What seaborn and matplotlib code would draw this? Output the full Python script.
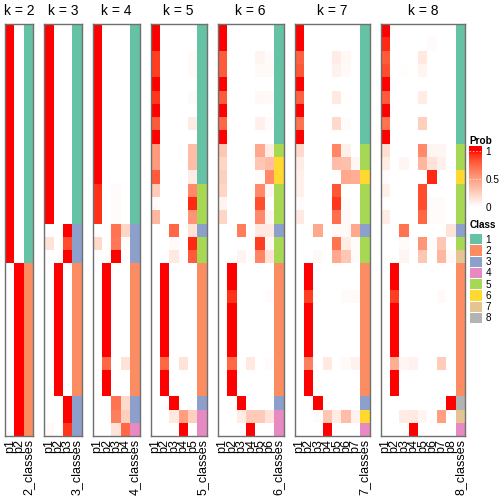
import numpy as np
import matplotlib
matplotlib.use("Agg")
import matplotlib.pyplot as plt
import seaborn as sns
from matplotlib.colors import ListedColormap

plt.rcParams['font.family'] = ['Liberation Sans', 'DejaVu Sans']

# membership probabilities (31 samples) for k = 2..8, columns p1..pk
prob_k2 = [[1, 0]] * 18 + [[0, 1]] * 13
class_k2 = [1] * 18 + [2] * 13

prob_k3 = ([[1, 0, 0]] * 15
           + [[0, 0, 1], [0.15, 0, 0.85], [0, 0, 1]]
           + [[0, 1, 0]] * 10
           + [[0, 0, 1], [0, 0, 1], [0.03, 0, 0.92]])
class_k3 = [1] * 15 + [3] * 3 + [2] * 10 + [3] * 3

prob_k4 = ([[1, 0, 0, 0]] * 12
           + [[0.93, 0, 0.02, 0]] * 3
           + [[0, 0, 0.7, 0.22], [0.2, 0, 0.68, 0.02], [0, 0, 1, 0]]
           + [[0, 1, 0, 0]] * 7
           + [[0, 0.75, 0, 0.15], [0, 1, 0, 0], [0, 1, 0, 0]]
           + [[0, 0, 0.7, 0.2], [0, 0, 0.65, 0.25], [0, 0, 0.15, 0.75]])
class_k4 = [1] * 15 + [3] * 3 + [2] * 10 + [3, 3, 4]

prob_k5 = [
    [1, 0, 0, 0, 0], [1, 0, 0, 0, 0], [0.9, 0, 0, 0, 0.03], [0.9, 0, 0, 0, 0.03],
    [1, 0, 0, 0, 0], [0.92, 0, 0, 0, 0.03], [1, 0, 0, 0, 0], [0.8, 0, 0, 0, 0.1],
    [1, 0, 0, 0, 0], [0.52, 0, 0, 0, 0.35], [0.52, 0, 0, 0, 0.35], [0.8, 0, 0, 0, 0.1],
    [0.28, 0, 0, 0, 0.6], [0.02, 0, 0, 0, 0.95], [0.38, 0, 0, 0, 0.55],
    [0, 0, 0.75, 0, 0.15], [0, 0, 0.02, 0, 0.95], [0, 0, 0.12, 0, 0.8],
    [0, 1, 0, 0, 0], [0, 1, 0, 0, 0], [0, 1, 0, 0, 0], [0, 1, 0, 0, 0],
    [0, 1, 0, 0, 0], [0, 1, 0, 0, 0], [0, 1, 0, 0, 0], [0, 0.75, 0, 0.15, 0],
    [0, 1, 0, 0, 0], [0, 1, 0, 0, 0],
    [0, 0, 1, 0, 0], [0, 0, 0.12, 0.5, 0.25], [0, 0, 0, 1, 0]]
class_k5 = [1] * 12 + [5] * 3 + [3, 5, 5] + [2] * 10 + [3, 4, 4]

prob_k6 = [
    [1, 0, 0, 0, 0, 0], [1, 0, 0, 0, 0, 0], [0.8, 0, 0, 0, 0.06, 0.02],
    [0.8, 0, 0, 0, 0.03, 0.03], [1, 0, 0, 0, 0, 0], [0.8, 0, 0, 0, 0.04, 0.03],
    [1, 0, 0, 0, 0, 0], [0.75, 0, 0, 0, 0.08, 0.02], [1, 0, 0, 0, 0, 0],
    [0.3, 0, 0, 0, 0.45, 0.1], [0.22, 0, 0, 0, 0.3, 0.35], [0.25, 0, 0, 0, 0.02, 0.6],
    [0.22, 0, 0, 0, 0.6, 0.05], [0.06, 0, 0, 0, 0.85, 0], [0.22, 0, 0, 0, 0.6, 0.05],
    [0, 0, 0.66, 0, 0.12, 0.12], [0, 0, 0, 0, 0.9, 0.04], [0, 0, 0.06, 0, 0.62, 0.15],
    [0, 1, 0, 0, 0, 0], [0, 1, 0, 0, 0, 0], [0, 0.93, 0, 0, 0, 0.02],
    [0, 1, 0, 0, 0, 0], [0, 1, 0, 0, 0, 0], [0, 1, 0, 0, 0, 0], [0, 1, 0, 0, 0, 0],
    [0, 0.75, 0, 0.12, 0, 0.02], [0, 1, 0, 0, 0, 0], [0, 1, 0, 0, 0, 0],
    [0, 0, 1, 0, 0, 0], [0, 0, 0.1, 0.28, 0.28, 0.15], [0, 0, 0, 1, 0, 0]]
class_k6 = [1] * 9 + [5, 6, 6, 5, 5, 5, 3, 5, 5] + [2] * 10 + [3, 4, 4]

prob_k7 = [
    [1, 0, 0, 0, 0, 0, 0], [1, 0, 0, 0, 0, 0, 0], [0.78, 0, 0, 0, 0.1, 0.04, 0],
    [0.82, 0, 0, 0, 0.07, 0.03, 0], [1, 0, 0, 0, 0, 0, 0], [0.78, 0, 0, 0, 0.12, 0.01, 0],
    [1, 0, 0, 0, 0, 0, 0], [0.7, 0, 0, 0, 0.2, 0.02, 0], [1, 0, 0, 0, 0, 0, 0],
    [0.2, 0, 0, 0, 0.62, 0.08, 0], [0.1, 0, 0, 0, 0.35, 0.33, 0.05],
    [0.08, 0, 0, 0, 0, 0.45, 0.42], [0.08, 0, 0, 0, 0.82, 0, 0],
    [0.02, 0, 0, 0, 0.92, 0.02, 0], [0.12, 0, 0, 0, 0.72, 0.03, 0],
    [0, 0, 0.45, 0, 0.03, 0.03, 0.45], [0, 0, 0, 0, 0.7, 0.1, 0.02],
    [0, 0, 0.03, 0, 0.45, 0.3, 0.02],
    [0, 1, 0, 0, 0, 0, 0], [0, 1, 0, 0, 0, 0, 0], [0, 0.9, 0, 0, 0, 0.02, 0.03],
    [0, 1, 0, 0, 0, 0, 0], [0, 1, 0, 0, 0, 0, 0], [0, 1, 0, 0, 0, 0, 0],
    [0, 1, 0, 0, 0, 0, 0], [0, 0.65, 0, 0.12, 0, 0.03, 0.07],
    [0, 1, 0, 0, 0, 0, 0], [0, 1, 0, 0, 0, 0, 0],
    [0, 0, 1, 0, 0, 0, 0], [0, 0, 0.02, 0.3, 0.1, 0.35, 0.07], [0, 0, 0, 1, 0, 0, 0]]
class_k7 = [1] * 9 + [5, 5, 6, 5, 5, 5, 3, 5, 5] + [2] * 10 + [3, 6, 4]

prob_k8 = [
    [1, 0, 0, 0, 0, 0, 0, 0], [0.95, 0, 0, 0, 0, 0.02, 0, 0],
    [0.8, 0, 0, 0, 0.12, 0, 0, 0], [0.85, 0, 0.01, 0, 0.06, 0, 0, 0],
    [1, 0, 0, 0, 0, 0, 0, 0], [0.8, 0, 0, 0, 0.1, 0, 0, 0],
    [1, 0, 0, 0, 0, 0, 0, 0], [0.7, 0, 0, 0, 0.25, 0, 0, 0],
    [1, 0, 0, 0, 0, 0, 0, 0], [0.18, 0, 0, 0, 0.6, 0.05, 0.05, 0],
    [0.1, 0, 0.05, 0, 0.38, 0.15, 0.08, 0], [0.02, 0, 0, 0, 0, 0.95, 0, 0],
    [0.08, 0, 0, 0, 0.85, 0, 0, 0], [0, 0, 0, 0, 0.85, 0.02, 0.02, 0],
    [0.1, 0, 0, 0, 0.75, 0.02, 0.02, 0], [0, 0, 0.7, 0, 0, 0, 0, 0.15],
    [0, 0, 0.02, 0, 0.55, 0.02, 0.3, 0], [0, 0, 0.05, 0, 0.3, 0, 0.38, 0.03],
    [0, 1, 0, 0, 0, 0, 0, 0], [0, 1, 0, 0, 0, 0, 0, 0], [0, 0.9, 0, 0, 0, 0, 0.03, 0],
    [0, 1, 0, 0, 0, 0, 0, 0], [0, 1, 0, 0, 0, 0, 0, 0], [0, 1, 0, 0, 0, 0, 0, 0],
    [0, 1, 0, 0, 0, 0, 0, 0], [0, 0.42, 0.05, 0.07, 0, 0, 0.27, 0],
    [0, 1, 0, 0, 0, 0, 0, 0], [0, 1, 0, 0, 0, 0, 0, 0],
    [0, 0, 0, 0, 0, 0, 0, 1], [0, 0, 0.1, 0.12, 0.05, 0, 0.5, 0], [0, 0, 0, 1, 0, 0, 0, 0]]
class_k8 = [1] * 9 + [5, 5, 6, 5, 5, 5, 3, 5, 7] + [2] * 10 + [8, 7, 4]

ks = [2, 3, 4, 5, 6, 7, 8]
probs = [prob_k2, prob_k3, prob_k4, prob_k5, prob_k6, prob_k7, prob_k8]
classes = [class_k2, class_k3, class_k4, class_k5, class_k6, class_k7, class_k8]
class_colors = ["#66C2A5", "#FC8D62", "#8DA0CB", "#E78AC3",
                "#A6D854", "#FFD92F", "#E5C494", "#B3B3B3"]
class_labels = ["1", "2", "3", "4", "5", "6", "7", "8"]
prob_ticks = [0, 0.5, 1]


# white -> red interpolated in LAB space
def lab_to_rgb(L, a, b):
    fy = (L + 16) / 116
    fx = fy + a / 500
    fz = fy - b / 200
    finv = lambda t: np.where(t > 6 / 29, t ** 3, 3 * (6 / 29) ** 2 * (t - 4 / 29))
    xyz = np.array([0.95047 * finv(fx), finv(fy), 1.08883 * finv(fz)])
    M = np.array([[3.2406, -1.5372, -0.4986],
                  [-0.9689, 1.8758, 0.0415],
                  [0.0557, -0.2040, 1.0570]])
    rgb = np.clip(M @ xyz, 0, 1)
    rgb = np.where(rgb <= 0.0031308, 12.92 * rgb, 1.055 * rgb ** (1 / 2.4) - 0.055)
    return np.clip(rgb.T, 0, 1)


t = np.linspace(0, 1, 256)
prob_cmap = ListedColormap(lab_to_rgb(100 - t * 46.76, t * 80.09, t * 67.2))
class_cmap = ListedColormap(class_colors)

W = H = 504.0
fig = plt.figure(figsize=(5.04, 5.04), dpi=100)

col_w, gap, x0 = 9.38, 11.0, 5.0
top, bottom = 24.0, 436.3
x = x0
for k, prob, cls in zip(ks, probs, classes):
    data = np.column_stack([np.array(prob, float), np.array(cls, float)])
    is_cls = np.zeros_like(data, dtype=bool)
    is_cls[:, -1] = True
    w = (k + 1) * col_w
    ax = fig.add_axes([x / W, 1 - bottom / H, w / W, (bottom - top) / H])
    sns.heatmap(data, mask=is_cls, cmap=prob_cmap, vmin=0, vmax=1, cbar=False, ax=ax)
    sns.heatmap(data, mask=~is_cls, cmap=class_cmap, vmin=0.5, vmax=8.5, cbar=False, ax=ax)
    ax.set_yticks([])
    ax.set_xticks(np.arange(k + 1) + 0.5)
    ax.set_xticklabels([f"p{j}" for j in range(1, k + 1)] + [f"{k}_classes"],
                       rotation=90, fontsize=9)
    ax.tick_params(axis="x", length=0, pad=2)
    for s in ax.spines.values():
        s.set_visible(True)
        s.set_color("#707070")
        s.set_linewidth(1)
    ax.set_title(f"k = {k}", fontsize=10, pad=6.5)
    x += w + gap

# Prob legend: gradient bar, 1 at y=151px, 0 at y=207px, bar slightly longer
fig.text(469.5 / W, 1 - 140.5 / H, "Prob", fontsize=7.2, fontweight="bold", va="center")
lo, hi = -0.036, 1.089
cax = fig.add_axes([469.3 / W, 1 - 209 / H, 12.7 / W, 63 / H])
grad = np.clip(np.linspace(lo, hi, 200), 0, 1).reshape(-1, 1)
cax.imshow(grad, cmap=prob_cmap, vmin=0, vmax=1, origin="lower",
           extent=[0, 1, lo, hi], aspect="auto")
cax.set_xlim(0, 1)
cax.set_ylim(lo, hi)
cax.set_xticks([])
cax.yaxis.tick_right()
cax.set_yticks(prob_ticks)
cax.set_yticklabels(["0", "0.5", "1"])
cax.tick_params(length=0, labelsize=7.2, pad=2.5)
for s in cax.spines.values():
    s.set_visible(False)
for v in prob_ticks[1:]:
    cax.hlines(v, 0, 1, color="white", lw=0.6, linestyles=(0, (2, 2)), alpha=0.7)

# Class legend
fig.text(469.5 / W, 1 - 224.7 / H, "Class", fontsize=7.2, fontweight="bold", va="center")
lax = fig.add_axes([469.3 / W, 1 - 323 / H, 12.7 / W, 90 / H])
sns.heatmap(np.arange(1, 9).reshape(8, 1), cmap=class_cmap, vmin=0.5, vmax=8.5,
            cbar=False, ax=lax, linewidths=0.6, linecolor="white",
            xticklabels=False, yticklabels=class_labels)
lax.yaxis.tick_right()
lax.tick_params(axis="y", length=0, labelsize=7.2, rotation=0, pad=2.5)

fig.savefig("out.png", dpi=100)
